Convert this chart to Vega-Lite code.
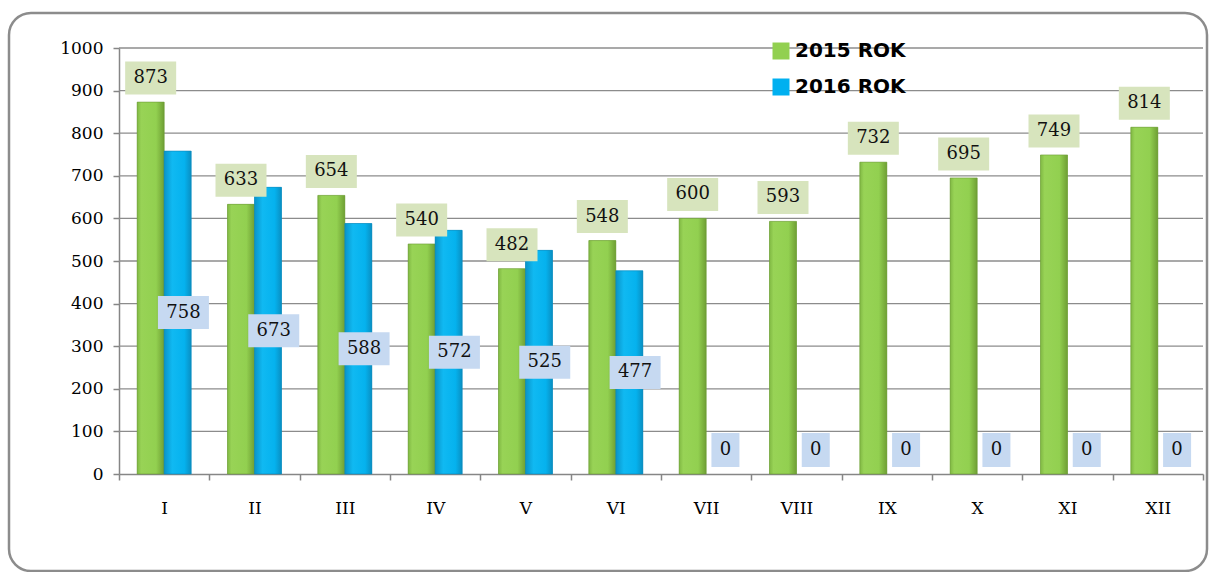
{
  "$schema": "https://vega.github.io/schema/vega-lite/v6.json",
  "width": 1198,
  "height": 558,
  "autosize": {"type": "none"},
  "padding": {"left": 9, "top": 13, "right": 3, "bottom": 1},
  "background": "white",
  "config": {
    "view": {"stroke": "#8c8c8c", "strokeWidth": 2.5, "cornerRadius": 22, "fill": "white"}
  },
  "datasets": {
    "sales": [
      {"m": "I", "s": "2015 ROK", "v": 873}, {"m": "II", "s": "2015 ROK", "v": 633},
      {"m": "III", "s": "2015 ROK", "v": 654}, {"m": "IV", "s": "2015 ROK", "v": 540},
      {"m": "V", "s": "2015 ROK", "v": 482}, {"m": "VI", "s": "2015 ROK", "v": 548},
      {"m": "VII", "s": "2015 ROK", "v": 600}, {"m": "VIII", "s": "2015 ROK", "v": 593},
      {"m": "IX", "s": "2015 ROK", "v": 732}, {"m": "X", "s": "2015 ROK", "v": 695},
      {"m": "XI", "s": "2015 ROK", "v": 749}, {"m": "XII", "s": "2015 ROK", "v": 814},
      {"m": "I", "s": "2016 ROK", "v": 758}, {"m": "II", "s": "2016 ROK", "v": 673},
      {"m": "III", "s": "2016 ROK", "v": 588}, {"m": "IV", "s": "2016 ROK", "v": 572},
      {"m": "V", "s": "2016 ROK", "v": 525}, {"m": "VI", "s": "2016 ROK", "v": 477},
      {"m": "VII", "s": "2016 ROK", "v": 0}, {"m": "VIII", "s": "2016 ROK", "v": 0},
      {"m": "IX", "s": "2016 ROK", "v": 0}, {"m": "X", "s": "2016 ROK", "v": 0},
      {"m": "XI", "s": "2016 ROK", "v": 0}, {"m": "XII", "s": "2016 ROK", "v": 0}
    ],
    "grid": [{"g": 100}, {"g": 200}, {"g": 300}, {"g": 400}, {"g": 500}, {"g": 600}, {"g": 700}, {"g": 800}, {"g": 900}, {"g": 1000}]
  },
  "resolve": {"scale": {"x": "independent", "y": "independent", "xOffset": "independent"}},
  "layer": [
    {
      "data": {"name": "grid"},
      "mark": {"type": "rule", "color": "#8c8c8c", "strokeWidth": 1.3},
      "encoding": {
        "y": {"field": "g", "type": "quantitative", "scale": {"domain": [0, 1000], "range": [461, 35], "nice": false, "zero": false}, "axis": null},
        "x": {"datum": 0, "type": "quantitative", "scale": {"domain": [0, 1], "range": [110, 1194], "nice": false, "zero": false}, "axis": null},
        "x2": {"datum": 1}
      }
    },
    {
      "data": {"name": "sales"},
      "encoding": {
        "x": {
          "field": "m", "type": "nominal", "sort": null,
          "scale": {"domain": ["I", "II", "III", "IV", "V", "VI", "VII", "VIII", "IX", "X", "XI", "XII"], "range": [110, 1194], "paddingInner": 0, "paddingOuter": 0},
          "axis": {
            "title": null, "orient": "bottom", "offset": -97, "labelAngle": 0,
            "labelFont": "DejaVu Serif", "labelFontSize": 17, "labelColor": "#000000",
            "labelPadding": 20, "tickSize": 6, "tickBand": "extent",
            "tickColor": "#868686", "domainColor": "#868686", "domainWidth": 1.5, "tickWidth": 1.5, "grid": false
          }
        },
        "xOffset": {"field": "s", "type": "nominal", "scale": {"domain": ["2015 ROK", "2016 ROK"], "paddingOuter": 0.673, "paddingInner": 0}},
        "y": {
          "field": "v", "type": "quantitative",
          "scale": {"domain": [0, 1000], "range": [461, 35], "nice": false, "zero": false},
          "axis": {
            "title": null, "orient": "left", "offset": -110, "format": "d", "values": [0, 100, 200, 300, 400, 500, 600, 700, 800, 900, 1000],
            "labelFont": "DejaVu Serif", "labelFontSize": 17, "labelColor": "#000000",
            "labelPadding": 10, "tickSize": 6, "tickColor": "#868686", "domainColor": "#868686",
            "domainWidth": 1.5, "tickWidth": 1.5, "grid": false
          }
        }
      },
      "layer": [
        {
          "transform": [{"filter": "datum.v > 0"}],
          "mark": {"type": "bar"},
          "encoding": {
            "color": {
              "field": "s", "type": "nominal",
              "scale": {"domain": ["2015 ROK", "2016 ROK"], "range": ["#92d050", "#00b0f0"]},
              "legend": {
                "title": null, "orient": "none", "legendX": 762, "legendY": 28,
                "labelFont": "DejaVu Sans", "labelFontWeight": "bold", "labelFontSize": 20, "labelColor": "#000000",
                "symbolType": "square", "symbolSize": 289, "symbolStrokeWidth": 0, "symbolOpacity": 1,
                "labelOffset": 4, "rowPadding": 16, "padding": 0
              }
            }
          }
        },
        {
          "transform": [{"filter": "datum.s == '2015 ROK'"}],
          "mark": {
            "type": "bar", "stroke": "#6c9a36", "strokeWidth": 0.6,
            "color": {"gradient": "linear", "x1": 0, "x2": 1, "y1": 0, "y2": 0,
              "stops": [{"offset": 0, "color": "#80b843"}, {"offset": 0.15, "color": "#98d356"}, {"offset": 0.7, "color": "#92d050"}, {"offset": 1, "color": "#6f9f34"}]}
          }
        },
        {
          "transform": [{"filter": "datum.s == '2016 ROK' && datum.v > 0"}],
          "mark": {
            "type": "bar", "stroke": "#0b86b8", "strokeWidth": 0.6,
            "color": {"gradient": "linear", "x1": 0, "x2": 1, "y1": 0, "y2": 0,
              "stops": [{"offset": 0, "color": "#0a93c8"}, {"offset": 0.3, "color": "#10b9f2"}, {"offset": 0.75, "color": "#05b2ee"}, {"offset": 1, "color": "#0a8fc2"}]}
          }
        },
        {
          "transform": [{"filter": "datum.s == '2015 ROK'"}],
          "mark": {"type": "point", "filled": true, "opacity": 1, "yOffset": -24, "color": "#d7e4bd",
            "shape": "M-1,-0.647L1,-0.647L1,0.647L-1,0.647Z", "size": 2601, "strokeWidth": 0}
        },
        {
          "transform": [{"filter": "datum.s == '2015 ROK'"}],
          "mark": {"type": "text", "yOffset": -24, "font": "DejaVu Serif", "fontSize": 18, "color": "#111111", "align": "center", "baseline": "middle"},
          "encoding": {"text": {"field": "v", "type": "quantitative"}}
        }
      ]
    },
    {
      "data": {"name": "sales"},
      "transform": [{"filter": "datum.s == '2016 ROK'"}],
      "encoding": {
        "x": {
          "field": "m", "type": "nominal", "sort": null,
          "scale": {"domain": ["I", "II", "III", "IV", "V", "VI", "VII", "VIII", "IX", "X", "XI", "XII"], "range": [110, 1194], "paddingInner": 0, "paddingOuter": 0},
          "axis": null
        },
        "xOffset": {"field": "s", "type": "nominal", "scale": {"domain": ["2015 ROK", "2016 ROK"], "paddingOuter": 0.673, "paddingInner": 0}},
        "y": {"field": "v", "type": "quantitative", "scale": {"domain": [113, 2113], "range": [437, 11], "clamp": true, "nice": false, "zero": false}, "axis": null}
      },
      "layer": [
        {
          "mark": {"type": "point", "filled": true, "opacity": 1, "color": "#c6d9f1", "strokeWidth": 0},
          "encoding": {
            "shape": {"condition": {"test": "datum.v == 0", "value": "M-0.8235,-1L0.8235,-1L0.8235,1L-0.8235,1Z"}, "value": "M-1,-0.647L1,-0.647L1,0.647L-1,0.647Z"},
            "size": {"condition": {"test": "datum.v == 0", "value": 1156}, "value": 2601}
          }
        },
        {
          "mark": {"type": "text", "font": "DejaVu Serif", "fontSize": 18, "color": "#111111", "align": "center", "baseline": "middle"},
          "encoding": {"text": {"field": "v", "type": "quantitative"}}
        }
      ]
    }
  ]
}
